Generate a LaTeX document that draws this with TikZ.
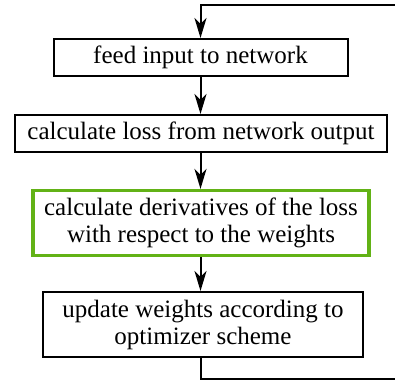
\documentclass[tikz,border=0pt]{standalone}
\usepackage{fontspec}
\setmainfont{Liberation Serif}
\usepackage{tikz}
\usetikzlibrary{arrows.meta}
\definecolor{stepgreen}{RGB}{98,178,22}
\tikzset{stepbox/.style={draw=black, line width=1pt, minimum height=18.5pt, inner sep=2pt, align=center, font=\fontsize{12.5}{13.5}\selectfont},
 greenbox/.style={stepbox, draw=stepgreen, line width=1.6pt},
 flow/.style={line width=1pt, -{Stealth[length=10pt, width=6pt, inset=3pt]}},
 }

\begin{document}
\begin{tikzpicture}[x=0.5pt, y=-0.5pt]
        \useasboundingbox (0,0) rectangle (395,381);
        \node[stepbox, minimum width=147pt] (feed) at (200.5,57.5) {feed input to network};
        \node[stepbox, minimum width=186pt] (loss) at (201,133.5) {calculate loss from network output};
        \node[greenbox, minimum width=168pt, minimum height=32.5pt] (deriv) at (201,223)
            {calculate derivatives of the loss\\with respect to the weights};
        \node[stepbox, minimum width=160pt, minimum height=32.5pt] (upd) at (203,324.5)
            {update weights according to\\optimizer scheme};
        % loop back, its right side lies outside the page
        \coordinate (top) at (402,5);
        \coordinate (bot) at (402,379);
        \draw[flow] (feed.south) -- (feed.south |- loss.north);
        \draw[flow] (feed.south |- loss.south) -- (feed.south |- deriv.north);
        \draw[flow] (feed.south |- deriv.south) -- (feed.south |- upd.north);
        \draw[flow] (feed.south |- upd.south) |- (bot) -- (top) -| (feed.north);
    \end{tikzpicture}
\end{document}
